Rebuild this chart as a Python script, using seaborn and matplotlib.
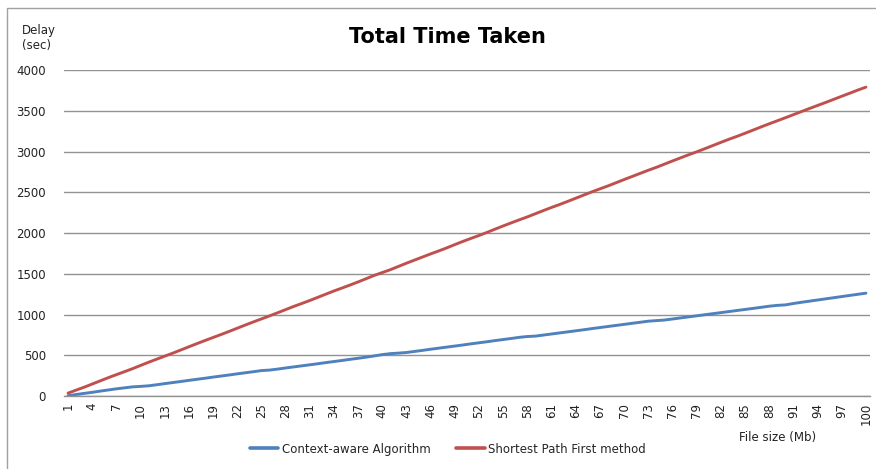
import matplotlib
matplotlib.use("Agg")
import matplotlib.pyplot as plt
from matplotlib.patches import Rectangle
import seaborn as sns
import pandas as pd

# File sizes (Mb) and measured delays (sec)
file_size = list(range(1, 101))

context_aware = [3, 18, 32, 45, 60, 74, 88, 100, 112, 118,
                 125, 138, 152, 165, 178, 192, 205, 218, 232, 245,
                 258, 272, 285, 298, 312, 318, 330, 344, 357, 370,
                 383, 396, 410, 423, 436, 450, 463, 477, 492, 508,
                 520, 526, 534, 547, 560, 574, 587, 600, 613, 626,
                 640, 653, 666, 680, 693, 706, 720, 730, 735, 748,
                 761, 774, 787, 800, 813, 827, 840, 853, 866, 879,
                 892, 905, 918, 925, 932, 945, 958, 971, 984, 997,
                 1010, 1023, 1036, 1049, 1062, 1075, 1088, 1102, 1112, 1118,
                 1135, 1150, 1164, 1178, 1192, 1206, 1220, 1234, 1248, 1262]

shortest_path = [35, 72, 108, 147, 186, 225, 262, 298, 335, 375,
                 414, 452, 489, 526, 565, 604, 643, 681, 718, 755,
                 793, 832, 871, 909, 946, 983, 1021, 1060, 1099, 1135,
                 1172, 1211, 1250, 1289, 1325, 1362, 1400, 1440, 1480, 1515,
                 1550, 1590, 1630, 1668, 1706, 1744, 1780, 1818, 1858, 1897,
                 1934, 1970, 2008, 2048, 2087, 2125, 2162, 2198, 2237, 2276,
                 2314, 2350, 2388, 2427, 2466, 2505, 2542, 2578, 2617, 2656,
                 2694, 2732, 2770, 2806, 2845, 2884, 2922, 2960, 2996, 3034,
                 3073, 3112, 3150, 3186, 3224, 3263, 3302, 3340, 3377, 3414,
                 3452, 3490, 3528, 3565, 3602, 3640, 3678, 3716, 3754, 3790]

series_names = ["Context-aware Algorithm", "Shortest Path First method"]
series_colors = ["#4F81BD", "#C0504D"]
x_ticks = list(range(1, 101, 3))
y_ticks = list(range(0, 4001, 500))

df = pd.DataFrame({
    "File size": file_size * 2,
    "Delay": context_aware + shortest_path,
    "Method": [series_names[0]] * 100 + [series_names[1]] * 100,
})

sns.set_style("white")
plt.rcParams["font.family"] = ["DejaVu Sans"]

fig = plt.figure(figsize=(8.76, 4.69), dpi=100)
ax = fig.add_axes([64 / 876, 1 - 396 / 469, (870 - 64) / 876, (396 - 70) / 469])

sns.lineplot(data=df, x="File size", y="Delay", hue="Method",
             palette=dict(zip(series_names, series_colors)),
             linewidth=2.1, ax=ax, legend=False)

ax.set_xlim(0.5, 100.5)
ax.set_ylim(0, 4000)
ax.set_xticks(x_ticks)
ax.set_xticklabels([str(t) for t in x_ticks], rotation=90, fontsize=8.5, color="#222222")
ax.set_yticks(y_ticks)
ax.set_yticklabels([str(t) for t in y_ticks], fontsize=8.5, color="#222222")
ax.tick_params(axis="both", length=0, pad=5)
ax.tick_params(axis="y", pad=13)
ax.grid(axis="y", color="#929292", linewidth=1.0)
ax.set_axisbelow(True)
for side in ["left", "right", "top"]:
    ax.spines[side].set_visible(False)
ax.spines["bottom"].set_color("#929292")
ax.spines["bottom"].set_linewidth(1.0)
ax.set_xlabel("")
ax.set_ylabel("")

fig.text(447 / 876, 1 - 37 / 469, "Total Time Taken", ha="center", va="center",
         fontsize=15, fontweight="bold", color="black")
fig.text(22 / 876, 1 - 38 / 469, "Delay\n(sec)", ha="left", va="center",
         fontsize=8.5, color="#222222", linespacing=1.2)
fig.text(778 / 876, 1 - 437 / 469, "File size (Mb)", ha="center", va="center",
         fontsize=8.5, color="#222222")

handles = [plt.Line2D([], [], color=c, linewidth=2.6) for c in series_colors]
fig.legend(handles, series_names, loc="center", bbox_to_anchor=(448 / 876, 1 - 449 / 469),
           ncol=2, frameon=False, fontsize=8.5, handlelength=2.4, handletextpad=0.3,
           columnspacing=2.2)

fig.patches.append(Rectangle((7 / 876, -0.05), 1.2, 1 - 8 / 469 + 0.05,
                             transform=fig.transFigure, fill=False,
                             edgecolor="#a0a0a0", linewidth=1.0))

fig.savefig("out.png", dpi=100, facecolor="white")
